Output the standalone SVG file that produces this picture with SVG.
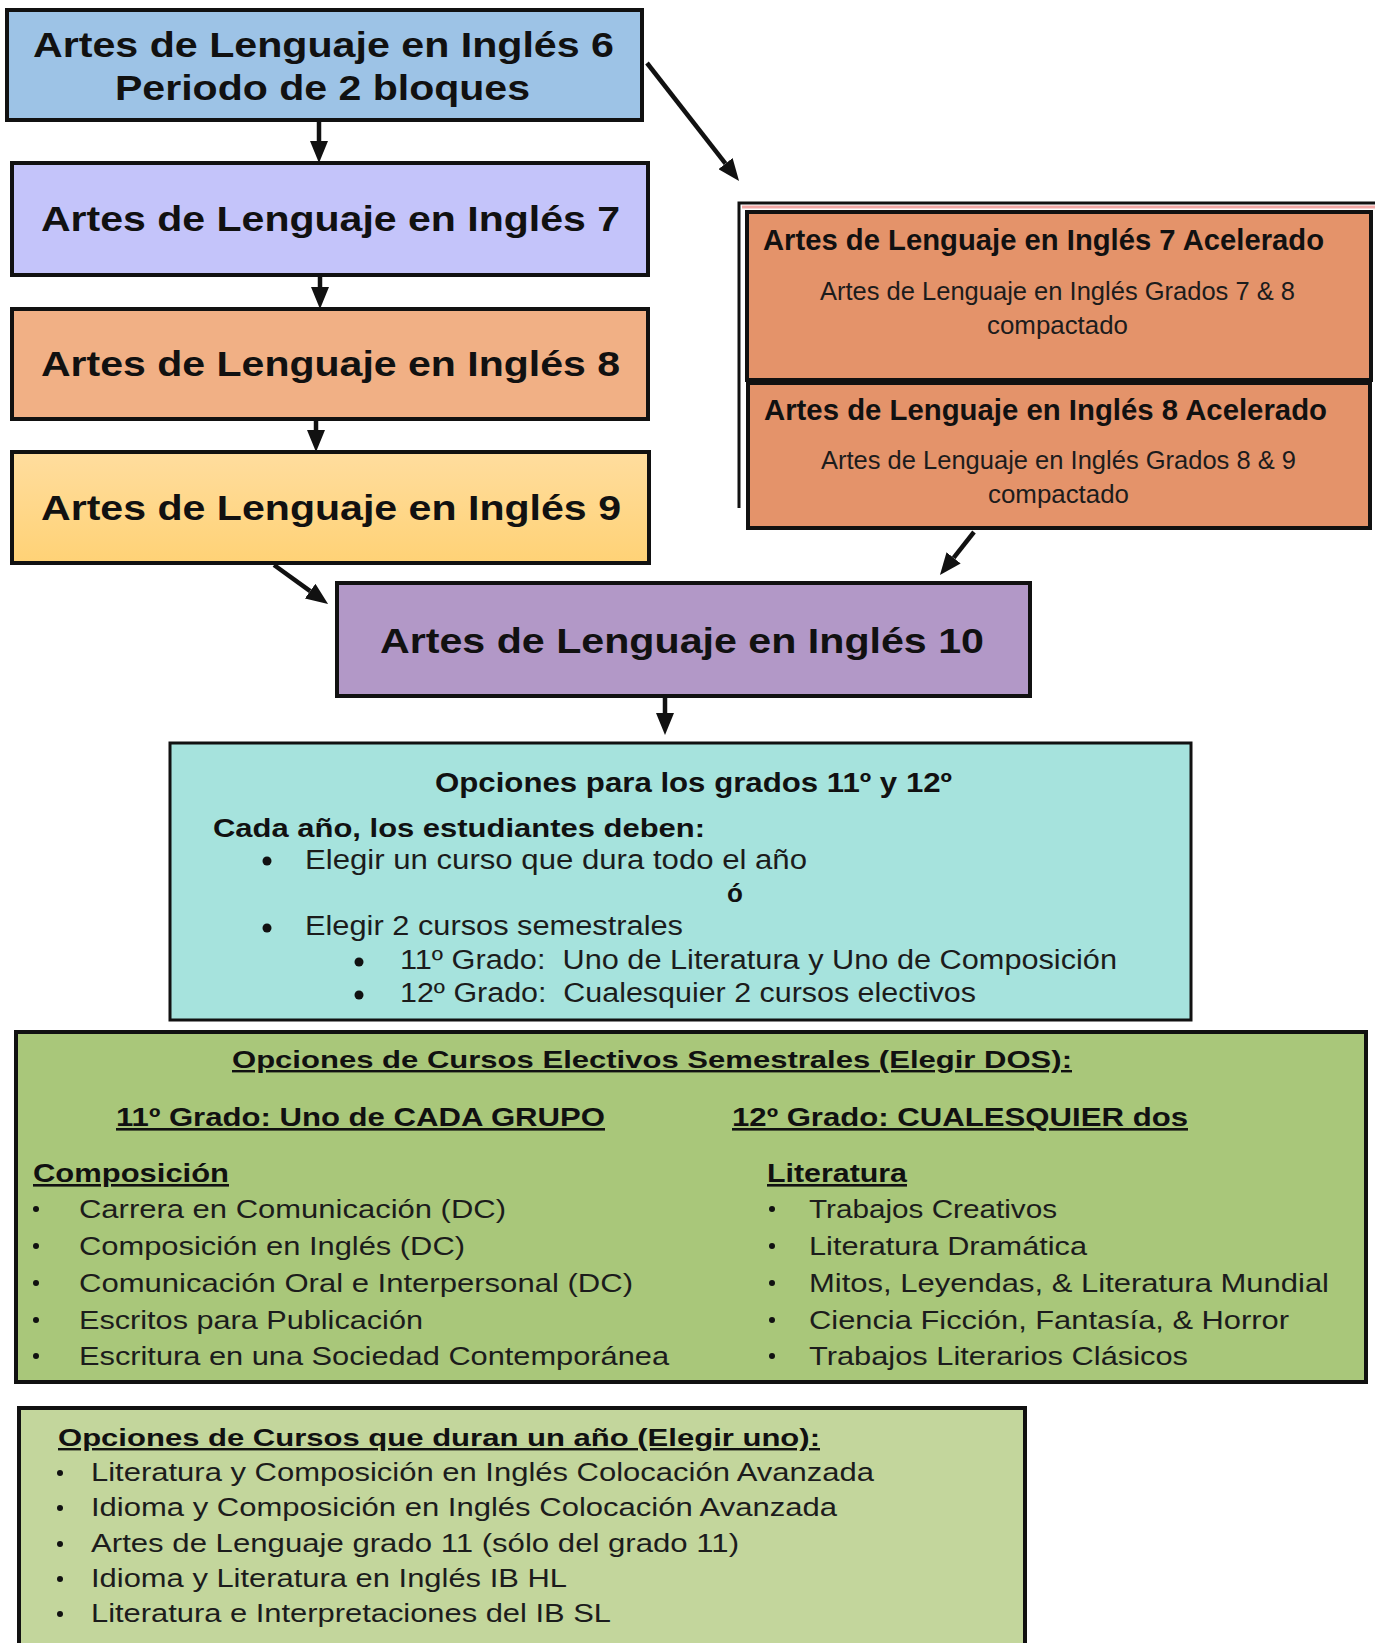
<svg xmlns="http://www.w3.org/2000/svg" width="1375" height="1643" viewBox="0 0 1375 1643">
<style>
.b{font-family:"Liberation Sans",Arial,sans-serif;font-weight:bold;fill:#111}
.r{font-family:"Liberation Sans",Arial,sans-serif;fill:#1c1c1c}
.u{text-decoration:underline}
.bx{stroke:#111;stroke-width:4}
.thin{stroke:#111;stroke-width:3}
.con{stroke:#111;stroke-width:4.5;fill:none;marker-end:url(#ah)}
.dot{fill:#111}
</style>
<defs>
<marker id="ah" markerWidth="22" markerHeight="18" refX="0" refY="9" orient="auto" markerUnits="userSpaceOnUse">
<path d="M0,0 L22,9 L0,18 z" fill="#111"/>
</marker>
<linearGradient id="yel" x1="0" y1="0" x2="0" y2="1">
<stop offset="0" stop-color="#FFDD9E"/>
<stop offset="1" stop-color="#FFD276"/>
</linearGradient>
</defs>
<rect width="1375" height="1643" fill="#fff"/>

<g id="connectors">
<path class="con" d="M319,120 V141"/>
<path class="con" d="M320,275 V287"/>
<path class="con" d="M316,419 V430"/>
<path class="con" d="M665,696 V713"/>
<path class="con" d="M647,63 L725.5,163.6"/>
<path class="con" d="M274,565 L310.2,591.1"/>
<path class="con" d="M974,532 L953.6,557.8"/>
</g>

<g id="ela6">
<rect class="bx" x="7" y="10" width="635" height="110" fill="#9DC3E6"/>
<text class="b" x="33" y="57" font-size="35" textLength="581" lengthAdjust="spacingAndGlyphs">Artes de Lenguaje en Inglés 6</text>
<text class="b" x="115" y="100" font-size="35" textLength="415" lengthAdjust="spacingAndGlyphs">Periodo de 2 bloques</text>
</g>

<g id="ela7">
<rect class="bx" x="12" y="163" width="636" height="112" fill="#C4C4FA"/>
<text class="b" x="41" y="231" font-size="35" textLength="579" lengthAdjust="spacingAndGlyphs">Artes de Lenguaje en Inglés 7</text>
</g>

<g id="ela8">
<rect class="bx" x="12" y="309" width="636" height="110" fill="#F1B085"/>
<text class="b" x="41" y="376" font-size="35" textLength="579" lengthAdjust="spacingAndGlyphs">Artes de Lenguaje en Inglés 8</text>
</g>

<g id="ela9">
<rect class="bx" x="12" y="452" width="637" height="111" fill="url(#yel)"/>
<text class="b" x="41" y="520" font-size="35" textLength="580" lengthAdjust="spacingAndGlyphs">Artes de Lenguaje en Inglés 9</text>
</g>

<g id="accel-frame">
<path d="M739,508 V203 H1380" fill="none" stroke="#111" stroke-width="3"/>
<line x1="742" y1="207" x2="1375" y2="207" stroke="#F2A7A5" stroke-width="3"/>
</g>

<g id="ela7acc">
<rect class="bx" x="747" y="212" width="624" height="168" fill="#E4936A"/>
<text class="b" x="763" y="250" font-size="29" textLength="561" lengthAdjust="spacingAndGlyphs">Artes de Lenguaje en Inglés 7 Acelerado</text>
<text class="r" x="820" y="300" font-size="25" textLength="475" lengthAdjust="spacingAndGlyphs">Artes de Lenguaje en Inglés Grados 7 &amp; 8</text>
<text class="r" x="987" y="334" font-size="25" textLength="141" lengthAdjust="spacingAndGlyphs">compactado</text>
</g>

<g id="ela8acc">
<rect class="bx" x="748" y="383" width="622" height="145" fill="#E4936A"/>
<text class="b" x="764" y="420" font-size="29" textLength="563" lengthAdjust="spacingAndGlyphs">Artes de Lenguaje en Inglés 8 Acelerado</text>
<text class="r" x="821" y="469" font-size="25" textLength="475" lengthAdjust="spacingAndGlyphs">Artes de Lenguaje en Inglés Grados 8 &amp; 9</text>
<text class="r" x="988" y="503" font-size="25" textLength="141" lengthAdjust="spacingAndGlyphs">compactado</text>
</g>

<g id="ela10">
<rect class="bx" x="337" y="583" width="693" height="113" fill="#B298C7"/>
<text class="b" x="380" y="653" font-size="35" textLength="604" lengthAdjust="spacingAndGlyphs">Artes de Lenguaje en Inglés 10</text>
</g>

<g id="opciones-11-12">
<rect class="thin" x="170" y="743" width="1021" height="277" fill="#A6E3DD"/>
<text class="b" x="435" y="792" font-size="27" textLength="517" lengthAdjust="spacingAndGlyphs">Opciones para los grados 11º y 12º</text>
<text class="b" x="213" y="837" font-size="26" textLength="492" lengthAdjust="spacingAndGlyphs">Cada año, los estudiantes deben:</text>
<circle class="dot" cx="267" cy="861" r="4.5"/>
<text class="r" x="305" y="869" font-size="27" textLength="502" lengthAdjust="spacingAndGlyphs">Elegir un curso que dura todo el año</text>
<text class="b" x="735" y="902" font-size="26" text-anchor="middle">ó</text>
<circle class="dot" cx="267" cy="928" r="4.5"/>
<text class="r" x="305" y="935" font-size="27" textLength="378" lengthAdjust="spacingAndGlyphs">Elegir 2 cursos semestrales</text>
<circle class="dot" cx="359" cy="962" r="4.5"/>
<text class="r" x="400" y="969" font-size="27" textLength="717" lengthAdjust="spacingAndGlyphs">11º Grado:&#160; Uno de Literatura y Uno de Composición</text>
<circle class="dot" cx="359" cy="995" r="4.5"/>
<text class="r" x="400" y="1002" font-size="27" textLength="576" lengthAdjust="spacingAndGlyphs">12º Grado:&#160; Cualesquier 2 cursos electivos</text>
</g>

<g id="electivos-semestrales">
<rect class="bx" x="16" y="1032" width="1350" height="350" fill="#A9C77A"/>
<text class="b u" x="232" y="1068" font-size="24" textLength="840" lengthAdjust="spacingAndGlyphs">Opciones de Cursos Electivos Semestrales (Elegir DOS):</text>
<text class="b u" x="116" y="1126" font-size="26" textLength="489" lengthAdjust="spacingAndGlyphs">11º Grado: Uno de CADA GRUPO</text>
<text class="b u" x="732" y="1126" font-size="26" textLength="456" lengthAdjust="spacingAndGlyphs">12º Grado: CUALESQUIER dos</text>
<text class="b u" x="33" y="1182" font-size="26" textLength="196" lengthAdjust="spacingAndGlyphs">Composición</text>
<text class="b u" x="767" y="1182" font-size="26" textLength="140" lengthAdjust="spacingAndGlyphs">Literatura</text>
<circle class="dot" cx="36" cy="1209" r="3"/>
<circle class="dot" cx="36" cy="1246" r="3"/>
<circle class="dot" cx="36" cy="1283" r="3"/>
<circle class="dot" cx="36" cy="1320" r="3"/>
<circle class="dot" cx="36" cy="1356" r="3"/>
<text class="r" x="79" y="1218" font-size="26" textLength="427" lengthAdjust="spacingAndGlyphs">Carrera en Comunicación (DC)</text>
<text class="r" x="79" y="1255" font-size="26" textLength="386" lengthAdjust="spacingAndGlyphs">Composición en Inglés (DC)</text>
<text class="r" x="79" y="1292" font-size="26" textLength="554" lengthAdjust="spacingAndGlyphs">Comunicación Oral e Interpersonal (DC)</text>
<text class="r" x="79" y="1329" font-size="26" textLength="344" lengthAdjust="spacingAndGlyphs">Escritos para Publicación</text>
<text class="r" x="79" y="1365" font-size="26" textLength="590" lengthAdjust="spacingAndGlyphs">Escritura en una Sociedad Contemporánea</text>
<circle class="dot" cx="772" cy="1209" r="3"/>
<circle class="dot" cx="772" cy="1246" r="3"/>
<circle class="dot" cx="772" cy="1283" r="3"/>
<circle class="dot" cx="772" cy="1320" r="3"/>
<circle class="dot" cx="772" cy="1356" r="3"/>
<text class="r" x="809" y="1218" font-size="26" textLength="248" lengthAdjust="spacingAndGlyphs">Trabajos Creativos</text>
<text class="r" x="809" y="1255" font-size="26" textLength="278" lengthAdjust="spacingAndGlyphs">Literatura Dramática</text>
<text class="r" x="809" y="1292" font-size="26" textLength="520" lengthAdjust="spacingAndGlyphs">Mitos, Leyendas, &amp; Literatura Mundial</text>
<text class="r" x="809" y="1329" font-size="26" textLength="480" lengthAdjust="spacingAndGlyphs">Ciencia Ficción, Fantasía, &amp; Horror</text>
<text class="r" x="809" y="1365" font-size="26" textLength="379" lengthAdjust="spacingAndGlyphs">Trabajos Literarios Clásicos</text>
</g>

<g id="cursos-anuales">
<rect class="bx" x="19" y="1408" width="1006" height="260" fill="#C3D69C"/>
<text class="b u" x="58" y="1446" font-size="24" textLength="762" lengthAdjust="spacingAndGlyphs">Opciones de Cursos que duran un año (Elegir uno):</text>
<circle class="dot" cx="60" cy="1473" r="3"/>
<circle class="dot" cx="60" cy="1508" r="3"/>
<circle class="dot" cx="60" cy="1544" r="3"/>
<circle class="dot" cx="60" cy="1579" r="3"/>
<circle class="dot" cx="60" cy="1614" r="3"/>
<text class="r" x="91" y="1481" font-size="25" textLength="783" lengthAdjust="spacingAndGlyphs">Literatura y Composición en Inglés Colocación Avanzada</text>
<text class="r" x="91" y="1516" font-size="25" textLength="746" lengthAdjust="spacingAndGlyphs">Idioma y Composición en Inglés Colocación Avanzada</text>
<text class="r" x="91" y="1552" font-size="25" textLength="648" lengthAdjust="spacingAndGlyphs">Artes de Lenguaje grado 11 (sólo del grado 11)</text>
<text class="r" x="91" y="1587" font-size="25" textLength="476" lengthAdjust="spacingAndGlyphs">Idioma y Literatura en Inglés IB HL</text>
<text class="r" x="91" y="1622" font-size="25" textLength="520" lengthAdjust="spacingAndGlyphs">Literatura e Interpretaciones del IB SL</text>
</g>
</svg>
